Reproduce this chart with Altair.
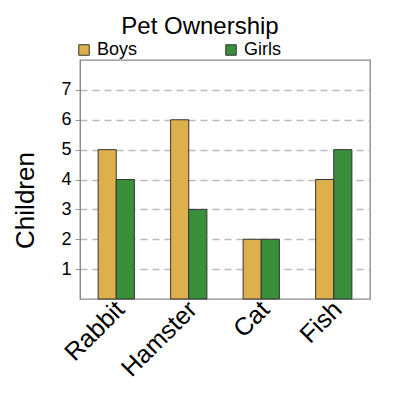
import altair as alt
import pandas as pd

pets = ["Rabbit", "Hamster", "Cat", "Fish"]
boys = [5, 6, 2, 4]
girls = [4, 3, 2, 5]
groups = ["Boys", "Girls"]
colors = ["#DDB04C", "#3A8F3A"]
y_ticks = [1, 2, 3, 4, 5, 6, 7]

rows = []
for p, b, g in zip(pets, boys, girls):
    rows.append({"pet": p, "group": "Boys", "count": b})
    rows.append({"pet": p, "group": "Girls", "count": g})
df = pd.DataFrame(rows)

FONT = "Liberation Sans"

chart = alt.Chart(df).mark_bar(stroke="#333333", strokeWidth=1).encode(
    x=alt.X("pet:N", sort=pets,
            scale=alt.Scale(paddingInner=0.5, paddingOuter=0.25),
            axis=alt.Axis(title=None, labelAngle=-45, labelAlign="right",
                          labelBaseline="middle", labelFontSize=25,
                          labelColor="#000", ticks=False, domain=False,
                          labelPadding=6, labelOffset=4, labelFont=FONT)),
    xOffset=alt.XOffset("group:N", sort=groups),
    y=alt.Y("count:Q", scale=alt.Scale(domain=[0, 8], nice=False),
            axis=alt.Axis(title="Children", values=y_ticks, titleFontSize=26,
                          titleFontWeight="normal", titleColor="#000",
                          titleFont=FONT, titleAngle=270, titleAlign="center",
                          titleBaseline="middle", titleX=-55, titleY=140,
                          labelFontSize=18, labelColor="#000", labelFont=FONT,
                          tickColor="#999", tickSize=5, domainColor="#888",
                          gridColor="#bbbbbb", gridDash=[7, 5], gridWidth=1.3,
                          labelPadding=4)),
    color=alt.Color("group:N", sort=groups,
                    scale=alt.Scale(domain=groups, range=colors),
                    legend=alt.Legend(title=None, orient="none", legendX=-5,
                                      legendY=-19, direction="horizontal",
                                      symbolType="square", symbolSize=110,
                                      symbolStrokeColor="#333", symbolStrokeWidth=1,
                                      labelFontSize=18, labelFont=FONT,
                                      labelColor="#000", columnPadding=84,
                                      labelOffset=4)),
).properties(
    width=290, height=239,
    title=alt.TitleParams("Pet Ownership", fontSize=24, font=FONT,
                          fontWeight="normal", color="#000", offset=2,
                          anchor="middle", dx=-25),
    autosize=alt.AutoSizeParams(type="none"),
    padding={"left": 72, "top": 52, "right": 22, "bottom": 93},
).configure_view(stroke="#888", strokeWidth=1.3)

chart.save("out.html", embed_options={"renderer": "svg", "actions": False})
